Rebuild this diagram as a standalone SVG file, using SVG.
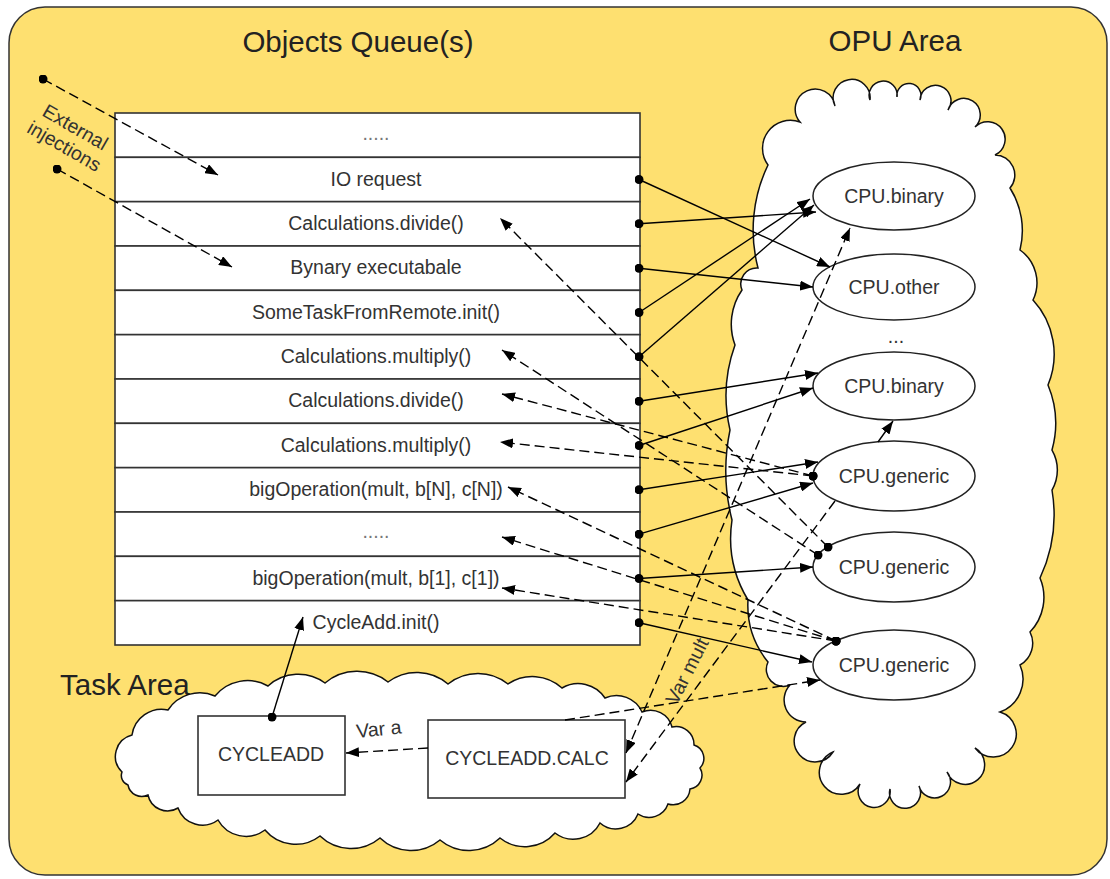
<svg xmlns="http://www.w3.org/2000/svg" width="1110" height="879" viewBox="0 0 1110 879">
  <style>
    .lbl { font-family: "Liberation Sans", Arial, sans-serif; font-size: 19.5px; fill: #333; }
    .ttl { font-family: "Liberation Sans", Arial, sans-serif; font-size: 29.5px; fill: #222; }
    .mid { text-anchor: middle; }
    .row rect { fill: #fff; stroke: #333; stroke-width: 1.6; }
    .cloud { fill: #fff; stroke: #111; stroke-width: 1.5; }
    .node ellipse { fill: #fff; stroke: #222; stroke-width: 1.5; }
    .box { fill: #fff; stroke: #333; stroke-width: 1.6; }
    .c { fill: none; stroke: #000; stroke-width: 1.4; }
    .d { stroke-dasharray: 10 5; }
    .faint { fill: #777; }
  </style>
  <defs>
    <marker id="ah" viewBox="0 0 13 10" refX="13" refY="5" markerWidth="13" markerHeight="10" markerUnits="userSpaceOnUse" orient="auto-start-reverse">
      <path d="M0,0 L13,5 L0,10 z" fill="#000"/>
    </marker>
    <marker id="dot" viewBox="0 0 10 10" refX="5" refY="5" markerWidth="9" markerHeight="9" markerUnits="userSpaceOnUse">
      <circle cx="5" cy="5" r="5" fill="#000"/>
    </marker>
  </defs>

  <!-- outer panel -->
  <rect x="9" y="7" width="1098" height="868" rx="36" fill="#FEE070" stroke="#333" stroke-width="1.5"/>

  <!-- titles -->
  <text class="ttl mid" x="358" y="52">Objects Queue(s)</text>
  <text class="ttl mid" x="895" y="51">OPU Area</text>
  <text class="ttl" x="60" y="695">Task Area</text>

  <!-- OPU cloud -->
  <g id="opu-area">
    <path class="cloud" d="M742,290 A16,16 0 0 1 758,268 A150,150 0 0 1 768,165 A28,28 0 0 1 800,122 A20,20 0 1 1 835,106 A18.5,18.5 0 1 1 870,100 A14,14 0 1 1 897,97 A12,12 0 1 1 920,100 A15.5,15.5 0 1 1 948,110 A16.5,16.5 0 1 1 975,127 A17.5,17.5 0 1 1 995,155 A20,20 0 0 1 1010,188 A80,80 0 0 1 1020,250 A40,40 0 0 1 1033,300 A80,80 0 0 1 1048,385 A100,100 0 0 1 1052,450 A40,40 0 0 1 1052,490 A150,150 0 0 1 1040,578 A50,50 0 0 1 1030,632 A25,25 0 0 1 1020,665 A35,35 0 0 1 1000,712 A23,23 0 1 1 975,748 A19.5,19.5 0 1 1 947,772 A16,16 0 1 1 919,786 A15.5,15.5 0 1 1 890,789 A16,16 0 1 1 860,784 A22,22 0 1 1 833,752 A21,21 0 1 1 806,722 A22,22 0 0 1 790,685 A17,17 0 0 1 768,662 A90,90 0 0 1 748,600 A120,120 0 0 1 732,520 A200,200 0 0 1 730,430 A150,150 0 0 1 735,345 A60,60 0 0 1 742,290 Z"/>
  </g>

  <!-- Task cloud -->
  <g id="task-area">
    <path class="cloud" d="M122,772 A22,22 0 0 1 132,735 A30,30 0 0 1 168,710 A38,38 0 0 1 215,696 A42,42 0 0 1 268,686 A45,45 0 0 1 325,683 A50,50 0 0 1 388,682 A48,48 0 0 1 448,684 A48,48 0 0 1 508,684 A44,44 0 0 1 562,688 A32,32 0 0 1 605,698 A28,28 0 0 1 642,712 A22,22 0 0 1 672,727 A18,18 0 0 1 694,745 A14,14 0 0 1 700,768 A14,14 0 0 1 690,789 A17,17 0 0 1 668,804 A20,20 0 0 1 638,814 A24,24 0 0 1 600,823 A30,30 0 0 1 555,833 A40,40 0 0 1 500,838 A45,45 0 0 1 440,840 A45,45 0 0 1 380,838 A45,45 0 0 1 320,836 A40,40 0 0 1 265,830 A32,32 0 0 1 218,820 A26,26 0 0 1 178,808 A20,20 0 0 1 148,795 A14,14 0 0 1 128,785 A10,10 0 0 1 122,772 Z"/>
  </g>

  <!-- queue rows -->
  <g id="queue">
    <g id="row-00" class="row"><rect x="115" y="113" width="525" height="44.33"/><text class="lbl mid faint" x="376" y="140">.....</text></g>
    <g id="row-01" class="row"><rect x="115" y="157.33" width="525" height="44.33"/><text class="lbl mid" x="376" y="185.5">IO request</text></g>
    <g id="row-02" class="row"><rect x="115" y="201.67" width="525" height="44.33"/><text class="lbl mid" x="376" y="229.8">Calculations.divide()</text></g>
    <g id="row-03" class="row"><rect x="115" y="246" width="525" height="44.33"/><text class="lbl mid" x="376" y="274.2">Bynary executabale</text></g>
    <g id="row-04" class="row"><rect x="115" y="290.33" width="525" height="44.33"/><text class="lbl mid" x="376" y="318.5">SomeTaskFromRemote.init()</text></g>
    <g id="row-05" class="row"><rect x="115" y="334.67" width="525" height="44.33"/><text class="lbl mid" x="376" y="362.8">Calculations.multiply()</text></g>
    <g id="row-06" class="row"><rect x="115" y="379" width="525" height="44.33"/><text class="lbl mid" x="376" y="407.2">Calculations.divide()</text></g>
    <g id="row-07" class="row"><rect x="115" y="423.33" width="525" height="44.33"/><text class="lbl mid" x="376" y="451.5">Calculations.multiply()</text></g>
    <g id="row-08" class="row"><rect x="115" y="467.67" width="525" height="44.33"/><text class="lbl mid" x="376" y="495.8">bigOperation(mult, b[N], c[N])</text></g>
    <g id="row-09" class="row"><rect x="115" y="512" width="525" height="44.33"/><text class="lbl mid faint" x="376" y="538">.....</text></g>
    <g id="row-10" class="row"><rect x="115" y="556.33" width="525" height="44.33"/><text class="lbl mid" x="376" y="584.5">bigOperation(mult, b[1], c[1])</text></g>
    <g id="row-11" class="row"><rect x="115" y="600.67" width="525" height="44.33"/><text class="lbl mid" x="376" y="628.8">CycleAdd.init()</text></g>
  </g>

  <!-- processing units -->
  <g id="cpu-binary-1" class="node"><ellipse cx="894" cy="196" rx="81" ry="34"/><text class="lbl mid" x="894" y="203">CPU.binary</text></g>
  <g id="cpu-other" class="node"><ellipse cx="894" cy="287" rx="81" ry="33"/><text class="lbl mid" x="894" y="294">CPU.other</text></g>
  <text class="lbl mid" x="896" y="343">...</text>
  <g id="cpu-binary-2" class="node"><ellipse cx="894" cy="386" rx="81" ry="34"/><text class="lbl mid" x="894" y="393">CPU.binary</text></g>
  <g id="cpu-generic-1" class="node"><ellipse cx="894" cy="476" rx="81" ry="35"/><text class="lbl mid" x="894" y="483">CPU.generic</text></g>
  <g id="cpu-generic-2" class="node"><ellipse cx="894" cy="567" rx="81" ry="35"/><text class="lbl mid" x="894" y="574">CPU.generic</text></g>
  <g id="cpu-generic-3" class="node"><ellipse cx="894" cy="665" rx="81" ry="35"/><text class="lbl mid" x="894" y="672">CPU.generic</text></g>

  <!-- tasks -->
  <g id="cycleadd"><rect class="box" x="198" y="716" width="147" height="79"/><text class="lbl mid" x="271" y="761">CYCLEADD</text></g>
  <g id="cycleadd-calc"><rect class="box" x="428" y="720" width="197" height="78"/><text class="lbl mid" x="527" y="765">CYCLEADD.CALC</text></g>

  <!-- connectors -->
  <g id="connectors">
    <!-- external injections -->
    <line class="c d" x1="43" y1="79" x2="218" y2="175" marker-start="url(#dot)" marker-end="url(#ah)"/>
    <line class="c d" x1="57" y1="169" x2="232" y2="267" marker-start="url(#dot)" marker-end="url(#ah)"/>

    <!-- queue to processors -->
    <line class="c" x1="639" y1="179.5" x2="830" y2="267" marker-start="url(#dot)" marker-end="url(#ah)"/>
    <line class="c" x1="639" y1="223.8" x2="816" y2="212" marker-start="url(#dot)" marker-end="url(#ah)"/>
    <line class="c" x1="639" y1="268.2" x2="813" y2="287" marker-start="url(#dot)" marker-end="url(#ah)"/>
    <line class="c" x1="639" y1="312.5" x2="810" y2="199" marker-start="url(#dot)" marker-end="url(#ah)"/>
    <line class="c" x1="639" y1="356.8" x2="814" y2="205" marker-start="url(#dot)" marker-end="url(#ah)"/>
    <line class="c" x1="639" y1="401.2" x2="818" y2="373" marker-start="url(#dot)" marker-end="url(#ah)"/>
    <line class="c" x1="639" y1="445.5" x2="813" y2="388" marker-start="url(#dot)" marker-end="url(#ah)"/>
    <line class="c" x1="639" y1="489.8" x2="818" y2="462" marker-start="url(#dot)" marker-end="url(#ah)"/>
    <line class="c" x1="639" y1="534.2" x2="813" y2="483" marker-start="url(#dot)" marker-end="url(#ah)"/>
    <line class="c" x1="639" y1="578.5" x2="813" y2="567" marker-start="url(#dot)" marker-end="url(#ah)"/>
    <line class="c" x1="639" y1="622.8" x2="812" y2="662" marker-start="url(#dot)" marker-end="url(#ah)"/>
    <line class="c" x1="878" y1="442" x2="893" y2="421" marker-end="url(#ah)"/>

    <!-- results back to queue -->
    <line class="c d" x1="828" y1="547" x2="500" y2="218" marker-start="url(#dot)" marker-end="url(#ah)"/>
    <line class="c d" x1="818" y1="555" x2="502" y2="350" marker-start="url(#dot)" marker-end="url(#ah)"/>
    <line class="c d" x1="813" y1="476" x2="502" y2="394" marker-start="url(#dot)" marker-end="url(#ah)"/>
    <line class="c d" x1="813" y1="476" x2="500" y2="442" marker-start="url(#dot)" marker-end="url(#ah)"/>
    <line class="c d" x1="836" y1="641" x2="508" y2="487" marker-start="url(#dot)" marker-end="url(#ah)"/>
    <line class="c d" x1="836" y1="641" x2="502" y2="537" marker-start="url(#dot)" marker-end="url(#ah)"/>
    <line class="c d" x1="836" y1="641" x2="502" y2="588" marker-start="url(#dot)" marker-end="url(#ah)"/>

    <!-- task area links -->
    <line class="c" x1="272" y1="717" x2="303" y2="617" marker-start="url(#dot)" marker-end="url(#ah)"/>
    <line class="c d" x1="428" y1="748" x2="346" y2="753" marker-end="url(#ah)"/>
    <line class="c d" x1="565" y1="720" x2="820" y2="680" marker-end="url(#ah)"/>
    <line class="c d" x1="626" y1="753" x2="850" y2="228" marker-start="url(#ah)" marker-end="url(#ah)"/>
    <line class="c d" x1="835" y1="501" x2="626" y2="782" marker-end="url(#ah)"/>
  </g>

  <!-- connector labels -->
  <text class="lbl mid" transform="translate(72,133) rotate(30)">External</text>
  <text class="lbl mid" transform="translate(61,152) rotate(30)">injections</text>
  <text class="lbl" transform="translate(357,738) rotate(-6)">Var a</text>
  <text class="lbl mid" transform="translate(693,674) rotate(-63)">Var mult</text>
</svg>
